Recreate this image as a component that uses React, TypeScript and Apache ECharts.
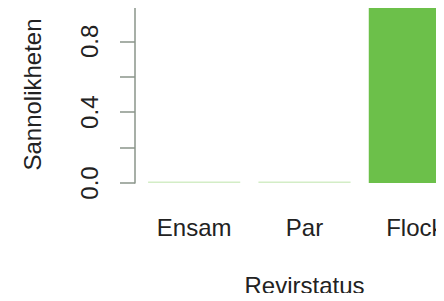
import React, { useEffect, useRef } from "react";
import * as echarts from "echarts";

const categories = ["Ensam", "Par", "Flock"];
const values = [0.008, 0.008, 0.99];
const barColors = ["#d3edc6", "#d3edc6", "#6cc04a"];
const yTickLabels = ["0.0", "0.4", "0.8"];
const xTitle = "Revirstatus";
const yTitle = "Sannolikheten";

export default function App() {
  const ref = useRef<HTMLDivElement>(null);
  useEffect(() => {
    const chart = echarts.init(ref.current!, null, { renderer: "svg" });
    const font = "Liberation Sans, Arial, sans-serif";
    chart.setOption({
      animation: false,
      grid: {
        left: 139,
        width: 331,
        top: 6,
        height: 177,
        containLabel: false,
        outerBoundsMode: "none",
      },
      xAxis: {
        type: "category",
        data: categories,
        axisLine: { show: false },
        axisTick: { show: false },
        axisLabel: { color: "#222", fontFamily: font, fontSize: 24, margin: 32 },
        name: xTitle,
        nameLocation: "middle",
        nameGap: 90,
        nameTextStyle: { color: "#222", fontFamily: font, fontSize: 24 },
      },
      yAxis: {
        type: "value",
        min: 0,
        max: 1,
        interval: 0.2,
        offset: 4,
        splitLine: { show: false },
        axisLine: { show: true, lineStyle: { color: "#8a958a", width: 1.5 } },
        axisTick: { show: true, length: 15, lineStyle: { color: "#8a958a", width: 1.5 } },
        axisLabel: {
          color: "#222",
          fontFamily: font,
          fontSize: 24,
          rotate: 90,
          margin: 34,
          formatter: (v: number) => {
            const s = v.toFixed(1);
            return yTickLabels.includes(s) ? s : "";
          },
        },
        name: yTitle,
        nameLocation: "middle",
        nameGap: 91,
        nameTextStyle: { color: "#222", fontFamily: font, fontSize: 24 },
      },
      series: [
        {
          type: "bar",
          data: values.map((v, i) => ({ value: v, itemStyle: { color: barColors[i] } })),
          barCategoryGap: "16.5%",
        },
      ],
    });
    return () => chart.dispose();
  }, []);
  return <div ref={ref} style={{ width: 444, height: 301, margin: -8 }} />;
}
